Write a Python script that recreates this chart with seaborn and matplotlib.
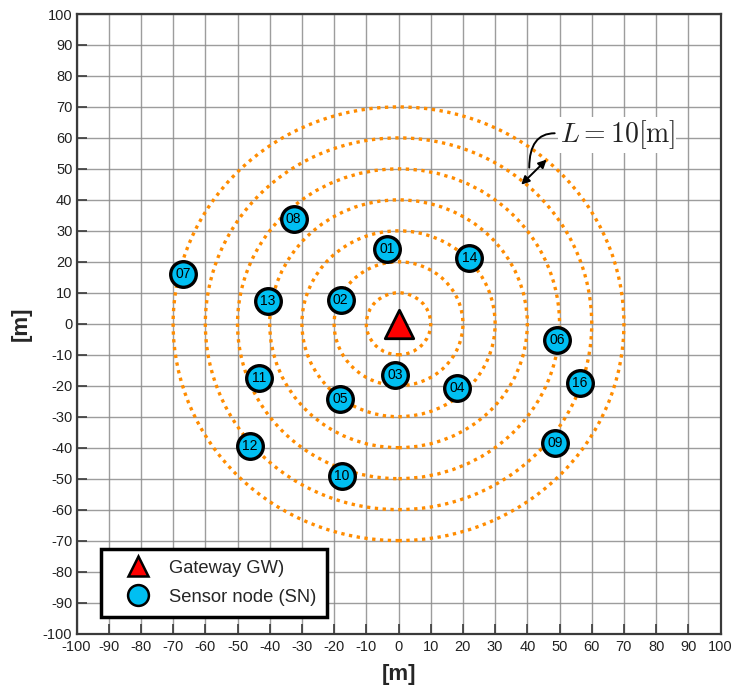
import numpy as np
import pandas as pd
import matplotlib
matplotlib.use("Agg")
import matplotlib.pyplot as plt
from matplotlib.lines import Line2D
from matplotlib.patches import Circle
import seaborn as sns

# Sensor node layout [m]
node_ids = ["01", "02", "03", "04", "05", "06", "07", "08",
            "09", "10", "11", "12", "13", "14", "16"]
node_x = [-3.5, -18.0, -1.0, 18.3, -18.1, 49.2, -67.0, -32.6,
          48.7, -17.6, -43.2, -46.1, -40.6, 22.0, 56.4]
node_y = [24.1, 7.6, -16.6, -20.7, -24.4, -5.4, 16.0, 33.7,
          -38.6, -49.1, -17.5, -39.4, 7.4, 21.1, -19.1]

# Gateway position
gw_x = [0.0]
gw_y = [0.0]

# Concentric ring radii, spacing L = 10 m
ring_radii = [10, 20, 30, 40, 50, 60, 70]

ticks = list(range(-100, 101, 10))

sns.set_theme(style="white")
plt.rcParams["font.family"] = ["Liberation Sans", "DejaVu Sans"]
plt.rcParams["axes.unicode_minus"] = False
plt.rcParams["mathtext.fontset"] = "cm"

fig = plt.figure(figsize=(7.35, 6.88), dpi=100)
ax = fig.add_axes([0.1041, 0.0792, 0.9803 - 0.1041, 0.97965 - 0.0792])

ax.set_xlim(-100, 100)
ax.set_ylim(-100, 100)
ax.set_xticks(ticks)
ax.set_yticks(ticks)
ax.grid(True, color="#8c8c8c", linewidth=1.0, alpha=0.85)
ax.set_axisbelow(True)

for sp in ax.spines.values():
    sp.set_color("#3a3a3a")
    sp.set_linewidth(1.6)

ax.tick_params(axis="both", which="major", direction="in", length=7,
               width=1.2, color="#3a3a3a", labelsize=10.5,
               labelcolor="#222222", pad=3,
               bottom=True, left=True, top=False, right=False)
ax.tick_params(axis="x", pad=5)

# Dotted rings around the gateway
for r in ring_radii:
    ax.add_patch(Circle((0, 0), r, fill=False, edgecolor="#ff8c00",
                        linewidth=2.4, linestyle=(0, (1.0, 1.35)), zorder=2))

nodes = pd.DataFrame({"x": node_x, "y": node_y, "id": node_ids})
gw = pd.DataFrame({"x": gw_x, "y": gw_y})

sns.scatterplot(data=nodes, x="x", y="y", ax=ax, s=340, color="#00bff2",
                edgecolor="black", linewidth=2.4, zorder=3, legend=False)
sns.scatterplot(data=gw, x="x", y="y", ax=ax, marker="^", s=420,
                color="#ff0000", edgecolor="black", linewidth=2.0,
                zorder=4, legend=False)

for _, row in nodes.iterrows():
    ax.text(row["x"], row["y"], row["id"], ha="center", va="center",
            fontsize=10, color="black", zorder=5)

# Ring spacing annotation
ax.annotate("", xy=(38.1, 44.9), xytext=(46.0, 53.0),
            arrowprops=dict(arrowstyle="<|-|>", color="black", lw=1.4,
                            mutation_scale=12, shrinkA=0, shrinkB=0),
            zorder=6)
ax.annotate("", xy=(40.6, 50.4), xytext=(48.5, 61.5),
            arrowprops=dict(arrowstyle="-", color="black", lw=1.4,
                            connectionstyle="angle3,angleA=0,angleB=90",
                            shrinkA=0, shrinkB=0),
            zorder=6)
ax.text(50.0, 61.0, r"$L = 10[\mathrm{m}]$", fontsize=20, ha="left",
        va="center", color="#222222", zorder=6,
        bbox=dict(facecolor="white", edgecolor="none", pad=1.0))

ax.set_xlabel("[m]", fontsize=16, fontweight="bold", labelpad=7)
ax.set_ylabel("[m]", fontsize=16, fontweight="bold", labelpad=8)

handles = [
    Line2D([0], [0], marker="^", linestyle="none", markersize=15,
           markerfacecolor="#ff0000", markeredgecolor="black",
           markeredgewidth=1.8, label="Gateway GW)"),
    Line2D([0], [0], marker="o", linestyle="none", markersize=15,
           markerfacecolor="#00bff2", markeredgecolor="black",
           markeredgewidth=1.8, label="Sensor node (SN)"),
]
leg = ax.legend(handles=handles, loc="lower left",
                bbox_to_anchor=(0.038, 0.027), borderaxespad=0,
                fontsize=13.2, frameon=True, fancybox=False,
                edgecolor="black", framealpha=1.0, borderpad=0.6,
                labelspacing=0.65, handletextpad=0.3, handlelength=2.8)
leg.get_frame().set_linewidth(2.5)
leg.set_zorder(10)

fig.savefig("out.png", dpi=100)
